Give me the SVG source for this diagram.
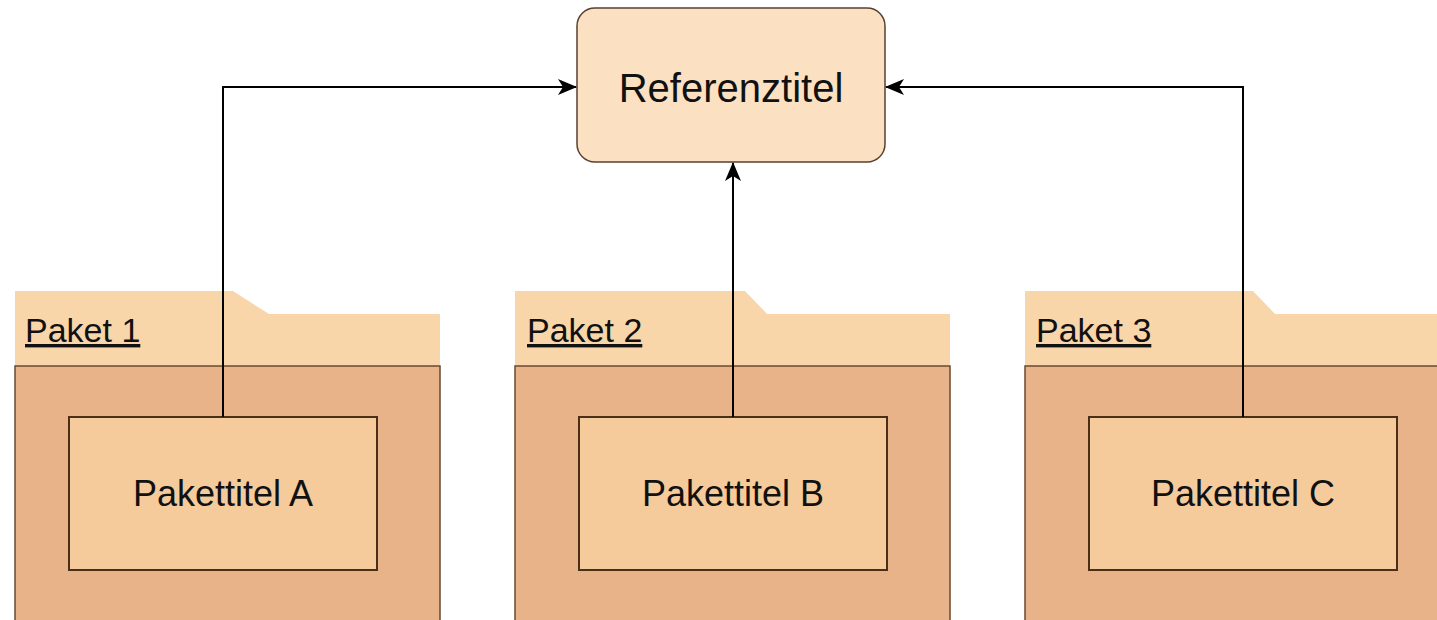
<svg xmlns="http://www.w3.org/2000/svg" width="1437" height="620" viewBox="0 0 1437 620">
<style>
  .tab{fill:#f9d5aa;stroke:none}
  .body{fill:#e8b389;stroke:#6b4a30;stroke-width:1.5}
  .inner{fill:#f5cb9b;stroke:#4a2e17;stroke-width:2}
  .ref{fill:#fbe0c2;stroke:#5a4030;stroke-width:1.5}
  .lbl{font-family:"Liberation Sans",Arial,sans-serif;fill:#111}
  .pk{font-size:34px;text-decoration:underline}
  .pt{font-size:36px}
  .conn{fill:none;stroke:#000;stroke-width:2}
</style>
<defs>
  <marker id="arr" markerWidth="20" markerHeight="18" refX="18" refY="9" orient="auto" markerUnits="userSpaceOnUse">
    <path d="M0,1 L19,9 L0,17 L5,9 Z" fill="#000"/>
  </marker>
</defs>
<rect width="1437" height="620" fill="#fff"/>
<g id="paket1">
  <path class="tab" d="M15,291 L233,291 L269,314 L440,314 L440,366 L15,366 Z"/>
  <path class="body" d="M15,625 L15,366 L440,366 L440,625"/>
  <text class="lbl pk" x="25" y="342">Paket 1</text>
</g>
<g id="paket2">
  <path class="tab" d="M515,291 L745,291 L767,314 L950,314 L950,366 L515,366 Z"/>
  <path class="body" d="M515,625 L515,366 L950,366 L950,625"/>
  <text class="lbl pk" x="527" y="342">Paket 2</text>
</g>
<g id="paket3">
  <path class="tab" d="M1025,291 L1253,291 L1275,314 L1445,314 L1445,366 L1025,366 Z"/>
  <path class="body" d="M1025,625 L1025,366 L1445,366 L1445,625"/>
  <text class="lbl pk" x="1036" y="342">Paket 3</text>
</g>
<g id="pakettitelA">
  <rect class="inner" x="69" y="417" width="308" height="153"/>
  <text class="lbl pt" x="223" y="506" text-anchor="middle">Pakettitel A</text>
</g>
<g id="pakettitelB">
  <rect class="inner" x="579" y="417" width="308" height="153"/>
  <text class="lbl pt" x="733" y="506" text-anchor="middle">Pakettitel B</text>
</g>
<g id="pakettitelC">
  <rect class="inner" x="1089" y="417" width="308" height="153"/>
  <text class="lbl pt" x="1243" y="506" text-anchor="middle">Pakettitel C</text>
</g>
<g id="referenztitel">
  <rect class="ref" x="577" y="8" width="308" height="154" rx="18" ry="18"/>
  <text class="lbl" x="731" y="102" text-anchor="middle" font-size="40">Referenztitel</text>
</g>
<g id="connectors">
  <path class="conn" d="M223,417 L223,87 L576,87" marker-end="url(#arr)"/>
  <path class="conn" d="M733,417 L733,163" marker-end="url(#arr)"/>
  <path class="conn" d="M1243,417 L1243,87 L886,87" marker-end="url(#arr)"/>
</g>
</svg>
